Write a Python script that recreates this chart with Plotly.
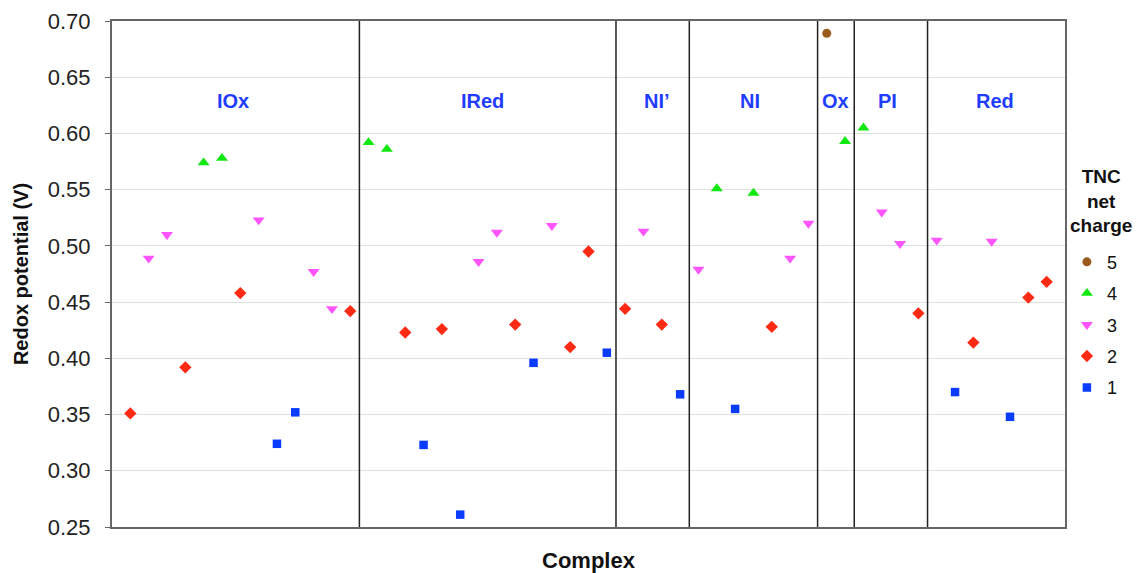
import plotly.graph_objects as go

# ---- data ----
group_names = ["IOx", "IRed", "NI\u2019", "NI", "Ox", "PI", "Red"]
group_sizes = [13, 14, 4, 7, 2, 4, 7]
group_label_x = [6.6, 20.2, 29.75, 34.8, 39.45, 42.3, 48.2]
group_label_y = 0.629

values = [
    0.351, 0.489, 0.510, 0.392, 0.574, 0.578, 0.458, 0.523, 0.324, 0.352, 0.477, 0.444, 0.442,
    0.592, 0.586, 0.423, 0.323, 0.426, 0.261, 0.486, 0.512, 0.430, 0.396, 0.518, 0.410, 0.495, 0.405,
    0.444, 0.513, 0.430, 0.368,
    0.479, 0.551, 0.355, 0.547, 0.428, 0.489, 0.520,
    0.689, 0.593,
    0.605, 0.530, 0.502, 0.440,
    0.505, 0.370, 0.414, 0.504, 0.348, 0.454, 0.468,
]
charges = [
    2, 3, 3, 2, 4, 4, 2, 3, 1, 1, 3, 3, 2,
    4, 4, 2, 1, 2, 1, 3, 3, 2, 1, 3, 2, 2, 1,
    2, 3, 2, 1,
    3, 4, 1, 4, 2, 3, 3,
    5, 4,
    4, 3, 3, 2,
    3, 1, 2, 3, 1, 2, 2,
]
charge_levels = [5, 4, 3, 2, 1]
y_ticks = [0.25, 0.30, 0.35, 0.40, 0.45, 0.50, 0.55, 0.60, 0.65, 0.70]
legend_title = "TNC<br>net<br>charge"

# ---- styles ----
styles = {
    5: dict(symbol="circle", color="#9A5A1C", size=9),
    4: dict(symbol="triangle-up", color="#11E811", size=10.5),
    3: dict(symbol="triangle-down", color="#FF55FF", size=10.5),
    2: dict(symbol="diamond", color="#FF2A14", size=9.5),
    1: dict(symbol="square", color="#0A3CFF", size=8.5),
}

FONT = "Liberation Sans, Arial, sans-serif"
fig = go.Figure()
idx = list(range(1, len(values) + 1))
for c in charge_levels:
    xs = [i for i, ch in zip(idx, charges) if ch == c]
    ys = [v for v, ch in zip(values, charges) if ch == c]
    st = styles[c]
    fig.add_trace(go.Scatter(
        x=xs, y=ys, mode="markers", name=str(c), legendgroup=str(c),
        marker=dict(symbol=st["symbol"], color=st["color"], size=st["size"], line=dict(width=0)),
    ))

# section boundaries
bounds = []
acc = 0
for s in group_sizes[:-1]:
    acc += s
    bounds.append(acc + 0.5)
for b in bounds:
    fig.add_shape(type="line", xref="x", yref="y", x0=b, x1=b, y0=0.25, y1=0.70,
                  line=dict(color="#222222", width=1.5), layer="above")

for name, lx in zip(group_names, group_label_x):
    fig.add_annotation(x=lx, y=group_label_y, xref="x", yref="y", text="<b>%s</b>" % name,
                       showarrow=False, font=dict(family=FONT, size=20, color="#1F3DFF"))

# legend title as annotation
fig.add_annotation(x=1.0378, y=0.644, xref="paper", yref="paper", xanchor="center", yanchor="middle",
                   text="<b>%s</b>" % legend_title, showarrow=False, align="center",
                   font=dict(family=FONT, size=19, color="#111111"))

fig.update_layout(
    width=1137, height=573,
    margin=dict(l=112, r=72, t=21, b=46, autoexpand=False),
    paper_bgcolor="white", plot_bgcolor="white",
    font=dict(family=FONT, color="#111111"),
    legend=dict(
        x=1.002, y=0.56, xanchor="left", yanchor="top",
        font=dict(size=18, family=FONT), tracegroupgap=5, itemwidth=30,
        bgcolor="rgba(0,0,0,0)",
    ),
    xaxis=dict(range=[0, 52], showticklabels=False, showgrid=False, zeroline=False,
               showline=True, linecolor="#666666", linewidth=2, mirror=True, ticks="",
               automargin=False,
               title=dict(text="<b>Complex</b>", font=dict(size=22, family=FONT), standoff=29)),
    yaxis=dict(range=[0.25, 0.70], tickvals=y_ticks, ticktext=["%.2f" % t for t in y_ticks],
               showgrid=True, gridcolor="#E0E0E0", gridwidth=1, zeroline=False,
               showline=True, linecolor="#666666", linewidth=2, mirror=True,
               ticks="outside", ticklen=5, tickcolor="#666666", automargin=False,
               ticklabelstandoff=10,
               tickfont=dict(size=22, family=FONT, color="#222222"),
               title=dict(text="<b>Redox potential (V)</b>", font=dict(size=20, family=FONT), standoff=14)),
)

fig.write_html(
    "out.html",
    config={"displayModeBar": False},
    post_script="document.body.style.margin='0';document.body.style.overflow='hidden';"
                "document.documentElement.style.overflow='hidden';",
)
